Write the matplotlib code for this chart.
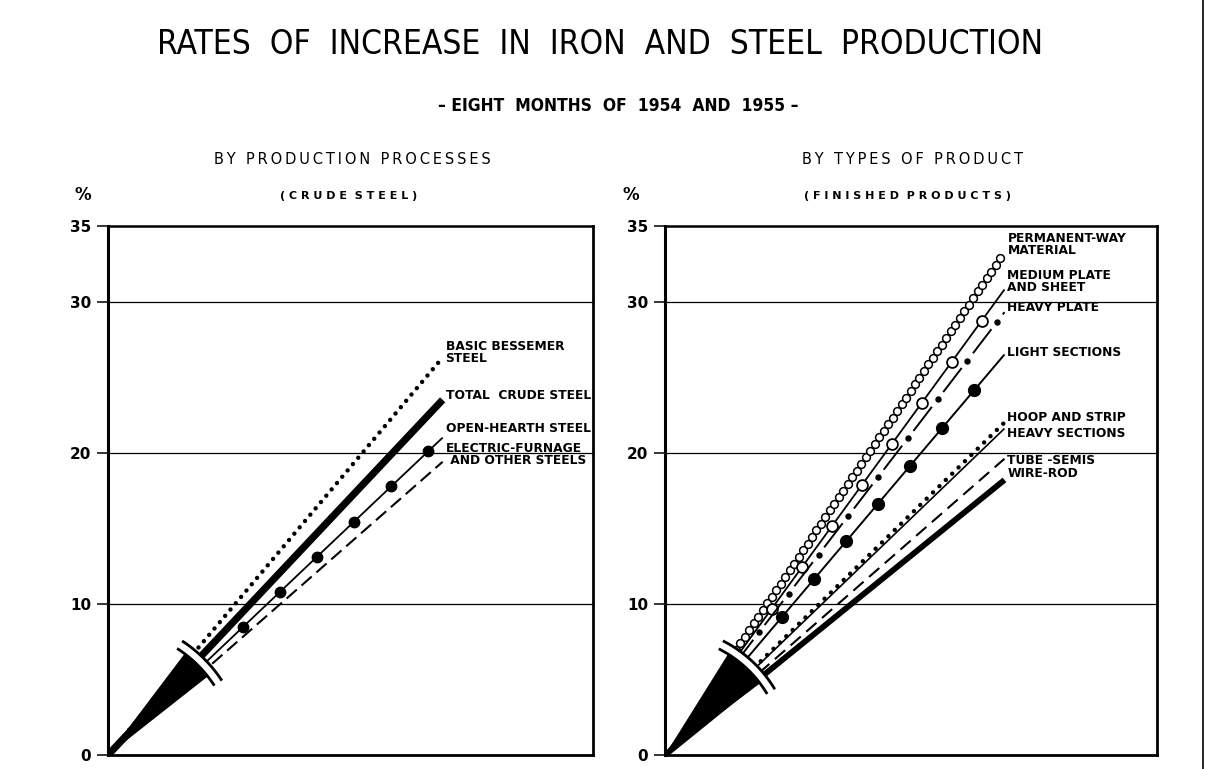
import numpy as np
import matplotlib
matplotlib.use("Agg")
import matplotlib.pyplot as plt
from matplotlib.lines import Line2D

W, H = 1205, 769

# left panel: crude steel by production process (% increase, 8 months 1955 vs 1954)
proc_names = ["BASIC BESSEMER\nSTEEL", "TOTAL  CRUDE STEEL", "OPEN-HEARTH STEEL",
              "ELECTRIC-FURNAGE\n AND OTHER STEELS"]
proc_rates = [26.3, 23.5, 21.0, 19.4]

# right panel: finished products by type
prod_names = ["PERMANENT-WAY\nMATERIAL", "MEDIUM PLATE\nAND SHEET", "HEAVY PLATE",
              "LIGHT SECTIONS", "HOOP AND STRIP", "HEAVY SECTIONS", "TUBE -SEMIS", "WIRE-ROD"]
prod_rates = [33.3, 30.8, 29.3, 26.5, 22.0, 21.6, 19.6, 18.2]

yticks = [0, 10, 20, 30, 35]
ytick_labels = ["0", "10", "20", "30", "35"]

X_END = 0.69   # where every ray stops (x has no scale on the chart)
FONT = "DejaVu Sans"

# ---- styles (line look + marker placement along each ray) ----
proc_styles = [
    dict(lw=3.2, ls=(0, (0.01, 1.85)), cap="round"),
    dict(lw=5.2),
    dict(lw=1.3, marker=dict(marker="o", ms=7.5, mfc="k", mec="k"),
         mx=np.arange(0.278, 0.67, 0.0765)),
    dict(lw=1.5, ls=(0, (6.5, 3.0))),
]
proc_label_y = [26.6, 23.8, 21.6, 19.9]

prod_styles = [
    dict(lw=0, marker=dict(marker="o", ms=5.6, mfc="white", mec="k", mew=1.1),
         mx=np.arange(0.135, 0.69, 0.0091)),
    dict(lw=1.3, marker=dict(marker="o", ms=7.8, mfc="white", mec="k", mew=1.3),
         mx=np.arange(0.217, 0.66, 0.061)),
    dict(lw=1.4, phased=(0.191, 0.0605), marker=dict(marker="o", ms=3.6, mfc="k", mec="k"),
         mx=np.arange(0.191, 0.68, 0.0605)),
    dict(lw=1.4, marker=dict(marker="o", ms=8.5, mfc="k", mec="k"),
         mx=np.arange(0.238, 0.66, 0.065)),
    dict(lw=3.2, ls=(0, (0.01, 2.0)), cap="round"),
    dict(lw=1.2),
    dict(lw=1.5, ls=(0, (6.5, 3.5))),
    dict(lw=4.2),
]
prod_label_y = [33.8, 31.3, 29.6, 26.65, 22.35, 21.3, 19.5, 18.6]


def spaced(s):
    # the original lettering is widely tracked
    return "\u2009".join(s)


def phased_dashes(sx, sy, rate, first_x, period_x, lw, frac_on=0.62):
    # dash pattern whose gaps sit on the marker positions
    k = np.hypot(sx, rate / X_END * sy)          # px along the line per unit x
    P = period_x * k
    on, off = frac_on * P, (1 - frac_on) * P
    offset = (on + off / 2 - first_x * k) % P
    scale = (72 / 100.) / lw                     # px -> lw units
    return (offset * scale, (on * scale, off * scale))


def draw_panel(ax, rates, styles, names, label_y, r_in, r_out, pad):
    ax.set_xlim(0, 1)
    ax.set_ylim(0, 35)
    bb = ax.get_position()
    sx = bb.width * W / 1.0
    sy = bb.height * H / 35.0

    for v in [10, 20, 30]:
        ax.axhline(v, color="k", lw=0.9, zorder=1)

    for rate, st in zip(rates, styles):
        xs = np.array([0, X_END])
        ys = xs * rate / X_END
        if st["lw"] > 0:
            ls = st.get("ls", "-")
            if "phased" in st:
                ls = phased_dashes(sx, sy, rate, st["phased"][0], st["phased"][1], st["lw"])
            cap = st.get("cap", "butt")
            ax.plot(xs, ys, color="k", lw=st["lw"], linestyle=ls,
                    dash_capstyle=cap, solid_capstyle="butt", zorder=2)
        if "marker" in st:
            mx = st["mx"]
            ax.plot(mx, mx * rate / X_END, linestyle="none", zorder=2, **st["marker"])

    # black wedge up to the break, then the double arc
    ang = np.degrees(np.arctan2(np.array(rates) * sy, X_END * sx))
    a_lo, a_hi = ang.min(), ang.max()
    t = np.radians(np.linspace(a_lo - pad, a_hi + pad, 50))
    ax.fill(np.r_[0, r_in * np.cos(t) / sx], np.r_[0, r_in * np.sin(t) / sy],
            color="k", lw=0, zorder=3)
    t2 = np.radians(np.linspace(a_lo - 7.5, a_hi + 6.5, 60))
    bx = np.r_[r_in * np.cos(t2), r_out * np.cos(t2[::-1])] / sx
    by = np.r_[r_in * np.sin(t2), r_out * np.sin(t2[::-1])] / sy
    ax.fill(bx, by, color="white", lw=0, zorder=4)
    for r in (r_in - 1, r_out):
        ax.plot(r * np.cos(t2) / sx, r * np.sin(t2) / sy, color="k", lw=2.0, zorder=5)

    for name, ly in zip(names, label_y):
        ax.text(X_END + 0.006, ly, name, fontsize=8.8, fontweight="bold", family=FONT,
                va="center", ha="left", linespacing=0.9, zorder=6)

    ax.set_xticks([])
    ax.set_yticks(yticks)
    ax.set_yticklabels(ytick_labels, fontsize=11, fontweight="bold", family=FONT)
    ax.tick_params(axis="y", length=8, width=1.1, direction="out", pad=4)
    for side, lw in zip(["left", "bottom", "top", "right"], [2.2, 2.0, 1.8, 2.0]):
        ax.spines[side].set_linewidth(lw)


fig = plt.figure(figsize=(W / 100, H / 100), dpi=100)
axL = fig.add_axes([108 / W, 14 / H, 485 / W, 529 / H])
axR = fig.add_axes([665 / W, 14 / H, 492 / W, 529 / H])

draw_panel(axL, proc_rates, proc_styles, proc_names, proc_label_y, 128, 136, 3.0)
draw_panel(axR, prod_rates, prod_styles, prod_names, prod_label_y, 120, 128, 2.0)

fig.text(600 / W, 1 - 45 / H, "RATES  OF  INCREASE  IN  IRON  AND  STEEL  PRODUCTION",
         ha="center", va="center", fontsize=24, fontstretch="condensed", family=FONT)
fig.text(618 / W, 1 - 106 / H, "– EIGHT  MONTHS  OF  1954  AND  1955 –",
         ha="center", va="center", fontsize=12.5, fontweight="bold", fontstretch="condensed",
         family=FONT)
fig.text(352 / W, 1 - 159 / H, spaced("BY PRODUCTION PROCESSES"), ha="center", va="center",
         fontsize=10.5, family=FONT)
fig.text(913 / W, 1 - 159 / H, spaced("BY TYPES OF PRODUCT"), ha="center", va="center",
         fontsize=10.5, family=FONT)
fig.text(349 / W, 1 - 196 / H, "( C R U D E  S T E E L )", ha="center", va="center",
         fontsize=8, fontweight="bold", family=FONT)
fig.text(907 / W, 1 - 196 / H, "( F I N I S H E D  P R O D U C T S )", ha="center",
         va="center", fontsize=8, fontweight="bold", family=FONT)
for px in (83, 631):
    fig.text(px / W, 1 - 195 / H, "%", ha="center", va="center", fontsize=12,
             fontweight="bold", family=FONT)

# page edge on the right
fig.add_artist(Line2D([1203 / W, 1203 / W], [0, 1], color="k", lw=1.2))

fig.savefig("out.png", dpi=100, facecolor="white")
